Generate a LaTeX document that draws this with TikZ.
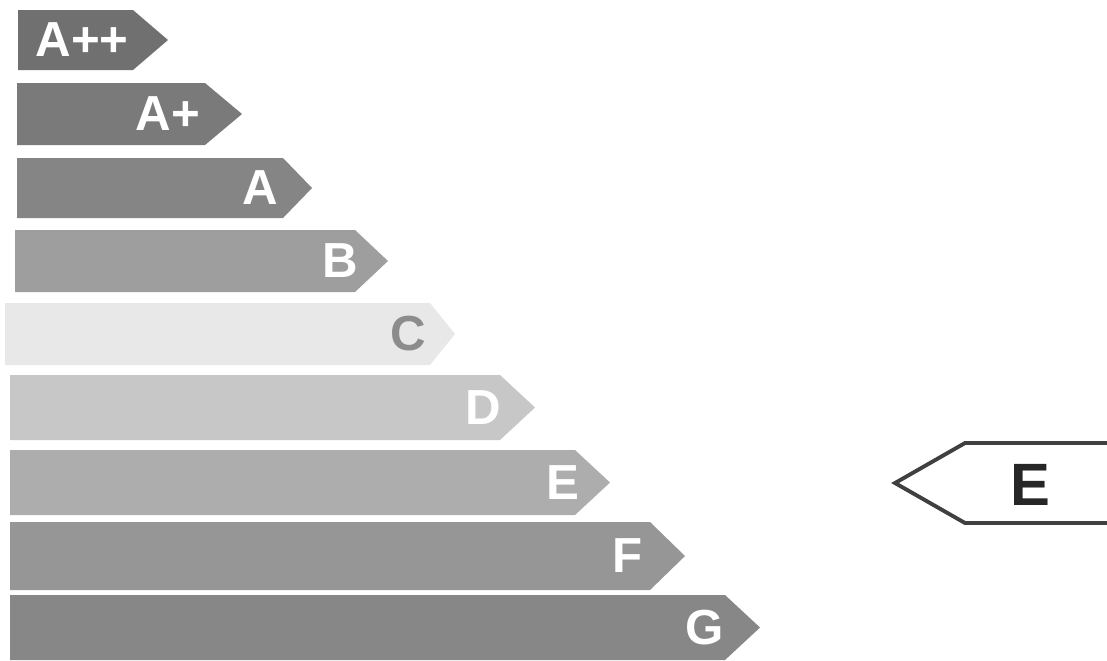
\documentclass[tikz,border=0pt]{standalone}
\usepackage{fontspec}
\setmainfont{Liberation Sans}
\begin{document}
\begin{tikzpicture}[
    x=0.01cm, y=-0.01cm,
    grade/.style={text=white, font=\bfseries\fontsize{14}{14}\selectfont, inner sep=0pt},
    pointer/.style={draw=black!75, line width=1.1pt}
  ]
  \useasboundingbox (0,0) rectangle (1107,660);
  % class bars
  \foreach \id/\lbl/\l/\t/\b/\r/\tip/\lx/\shade/\ink in {
      app/A++/18/10/70/133/168/82/56/white,
      ap/A+/17/83/145/205/242/168/52/white,
      a/A/17/158/218/283/312/260/48/white,
      b/B/15/230/292/355/388/340/38/white,
      c/C/5/303/365/430/455/408/9/black!45,
      d/D/10/375/440/500/535/483/22/white,
      e/E/10/450/515/575/610/563/32/white,
      f/F/10/522/590/650/685/628/41/white,
      g/G/10/595/660/725/760/705/47/white}
  {
    \fill[black!\shade] (\l,\t) -- (\r,\t) -- (\tip,{(\t+\b)/2}) -- (\r,\b) -- (\l,\b) -- cycle;
    \node[grade, text=\ink] (\id) at (\lx,{(\t+\b)/2}) {\lbl};
  }
  % rating pointer
  \draw[pointer] (1112,443) -- (965,443) -- (895,483) -- (965,523) -- (1112,523);
  \node[font=\bfseries\fontsize{17}{17}\selectfont, text=black!85] (rating) at (1030,485) {E};
\end{tikzpicture}
\end{document}
